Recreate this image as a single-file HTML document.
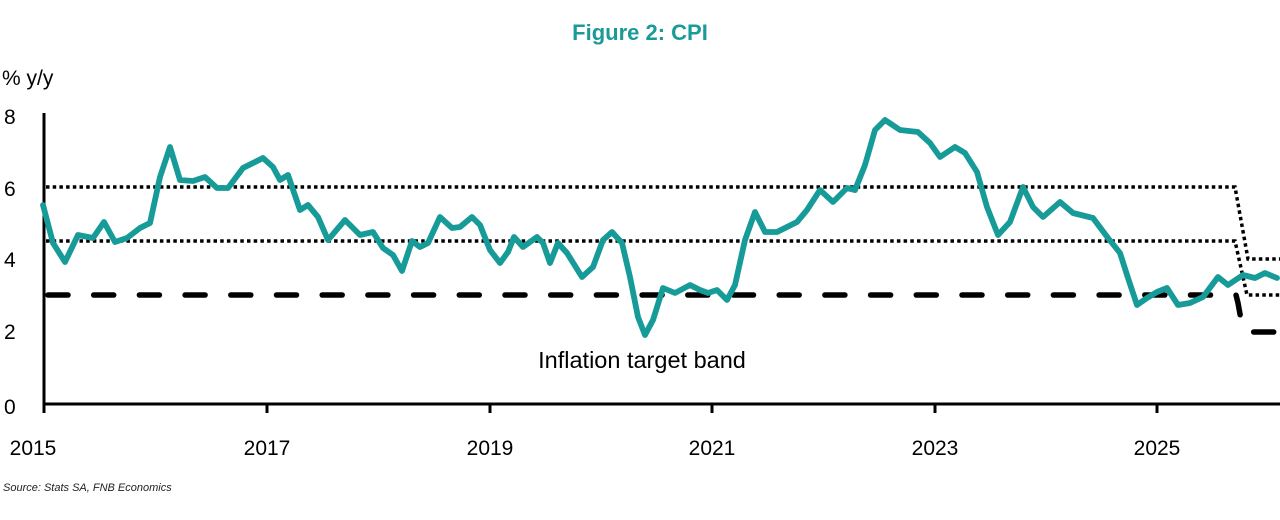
<!DOCTYPE html>
<html><head><style>
body{margin:0;background:#fff;width:1280px;height:520px;overflow:hidden}
svg{display:block}
text{font-family:"Liberation Sans",sans-serif}
</style></head><body>
<svg width="1280" height="520" viewBox="0 0 1280 520">
<text x="640" y="40" text-anchor="middle" font-size="22" font-weight="bold" fill="#1a9b98">Figure 2: CPI</text>
<text x="2" y="85" font-size="21" fill="#000">% y/y</text>
<g font-size="21" fill="#000">
<text x="4" y="124">8</text><text x="4" y="196">6</text><text x="4" y="267">4</text><text x="4" y="339">2</text><text x="4" y="414">0</text>
</g>
<g font-size="21" fill="#000" text-anchor="middle">
<text x="33" y="455">2015</text><text x="267" y="455">2017</text><text x="490" y="455">2019</text><text x="712" y="455">2021</text><text x="935" y="455">2023</text><text x="1157" y="455">2025</text>
</g>
<text x="3" y="491" font-size="11" font-style="italic" fill="#222">Source: Stats SA, FNB Economics</text>
<text x="642" y="368" text-anchor="middle" font-size="23.5" fill="#000">Inflation target band</text>
<g stroke="#000" stroke-width="3" fill="none">
<line x1="44" y1="113" x2="44" y2="413"/>
<line x1="43" y1="404" x2="1280" y2="404"/>
<line x1="267" y1="404" x2="267" y2="413"/><line x1="490" y1="404" x2="490" y2="413"/><line x1="712" y1="404" x2="712" y2="413"/><line x1="935" y1="404" x2="935" y2="413"/><line x1="1157" y1="404" x2="1157" y2="413"/>
</g>
<g stroke="#000" stroke-width="3.5" fill="none" stroke-dasharray="3.5 3.2">
<polyline points="46,187 1235,187 1248,259 1280,259"/>
<polyline points="46,241 1235,241 1247,295 1280,295"/>
</g>
<polyline points="48,295 1236,295 1238,303 1242,325 1247,332 1280,332" stroke="#000" stroke-width="5.5" fill="none" stroke-dasharray="20 25.7" stroke-linecap="round"/>
<polyline fill="none" stroke="#179b98" stroke-width="5.8" stroke-linejoin="round" stroke-linecap="round" points="43,205 53,243 65,262 78,235 93,238 104,222 115,242 127,238 140,228 150,223 160,177 170,147 180,180 193,181 205,177 217,188 228,188 243,168 253,163 263,158 273,167 280,180 288,175 300,210 308,205 318,217 328,240 345,220 360,235 373,232 383,248 393,255 402,271 412,241 420,247 428,243 440,217 452,228 460,227 472,217 480,225 490,250 500,263 508,252 514,237 523,247 537,237 543,243 550,263 558,243 567,253 582,277 593,267 603,240 612,232 622,243 630,277 638,317 645,335 653,320 663,288 675,293 690,285 700,290 708,293 717,290 727,300 735,285 745,240 755,212 765,232 777,232 797,222 807,210 820,190 833,202 847,188 855,190 865,165 875,130 885,120 900,130 918,132 930,143 940,157 955,147 965,153 977,172 987,207 998,235 1010,222 1023,187 1033,207 1043,217 1060,202 1073,213 1093,218 1108,238 1120,253 1128,278 1137,305 1147,298 1157,292 1167,288 1178,305 1190,303 1203,297 1218,277 1228,285 1243,275 1255,278 1265,273 1277,278"/>
</svg>
</body></html>
